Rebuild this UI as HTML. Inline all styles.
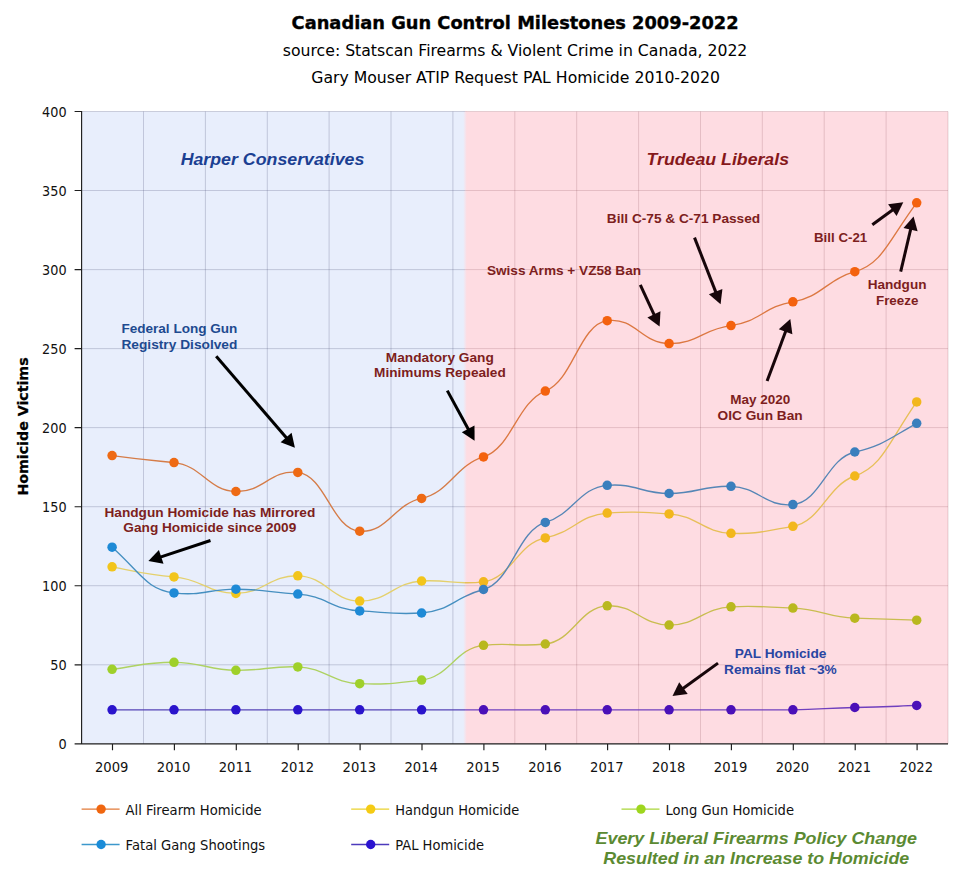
<!DOCTYPE html>
<html lang="en"><head><meta charset="utf-8"><title>Canadian Gun Control Milestones 2009-2022</title>
<style>
html,body{margin:0;padding:0;background:#fff;}
body{width:969px;height:877px;overflow:hidden;}
svg{display:block;}
.v{font-family:"DejaVu Sans","Liberation Sans",sans-serif;}
.a{font-family:"Liberation Sans","DejaVu Sans",sans-serif;font-weight:bold;}
</style></head><body>
<svg width="969" height="877" viewBox="0 0 969 877">
<defs><clipPath id="cl"><rect x="0" y="0" width="465.0" height="877"/></clipPath><clipPath id="cr"><rect x="465.0" y="0" width="504.0" height="877"/></clipPath></defs>
<rect width="969" height="877" fill="#ffffff"/>
<text class="v" x="515.1" y="28.7" text-anchor="middle" font-size="17.9" font-weight="bold" fill="#000" stroke="#000" stroke-width="0.35" textLength="447" lengthAdjust="spacingAndGlyphs">Canadian Gun Control Milestones 2009-2022</text>
<text class="v" x="515.1" y="56.0" text-anchor="middle" font-size="15" fill="#000" textLength="464.5" lengthAdjust="spacingAndGlyphs">source: Statscan Firearms &amp; Violent Crime in Canada, 2022</text>
<text class="v" x="515.6" y="82.8" text-anchor="middle" font-size="15" fill="#000" textLength="408.7" lengthAdjust="spacingAndGlyphs">Gary Mouser ATIP Request PAL Homicide 2010-2020</text>
<rect x="81.6" y="111.5" width="383.4" height="632.3" fill="#e8eefc"/>
<rect x="465.0" y="111.5" width="483.0" height="632.3" fill="#fedce2"/>
<linearGradient id="sg" x1="0" y1="0" x2="1" y2="0"><stop offset="0" stop-color="#e8eefc"/><stop offset="1" stop-color="#fedce2"/></linearGradient>
<rect x="463.2" y="111.5" width="3.6" height="632.3" fill="url(#sg)"/>
<path clip-path="url(#cl)" d="M81.6 111.5H948.0M81.6 190.5H948.0M81.6 269.6H948.0M81.6 348.6H948.0M81.6 427.6H948.0M81.6 506.7H948.0M81.6 585.7H948.0M81.6 664.8H948.0M143.5 111.5V743.8M205.4 111.5V743.8M267.3 111.5V743.8M329.1 111.5V743.8M391.0 111.5V743.8M452.9 111.5V743.8M514.8 111.5V743.8M576.7 111.5V743.8M638.6 111.5V743.8M700.5 111.5V743.8M762.3 111.5V743.8M824.2 111.5V743.8M886.1 111.5V743.8M948.0 111.5V743.8" stroke="#4a4f78" stroke-opacity="0.25" stroke-width="1" fill="none"/>
<path clip-path="url(#cr)" d="M81.6 111.5H948.0M81.6 190.5H948.0M81.6 269.6H948.0M81.6 348.6H948.0M81.6 427.6H948.0M81.6 506.7H948.0M81.6 585.7H948.0M81.6 664.8H948.0M143.5 111.5V743.8M205.4 111.5V743.8M267.3 111.5V743.8M329.1 111.5V743.8M391.0 111.5V743.8M452.9 111.5V743.8M514.8 111.5V743.8M576.7 111.5V743.8M638.6 111.5V743.8M700.5 111.5V743.8M762.3 111.5V743.8M824.2 111.5V743.8M886.1 111.5V743.8M948.0 111.5V743.8" stroke="#7a3846" stroke-opacity="0.19" stroke-width="1" fill="none"/>
<g clip-path="url(#cl)">
<path d="M112.14 709.80 C139.99 709.80 146.18 709.80 174.03 709.80 C201.88 709.80 208.07 709.80 235.91 709.80 C263.76 709.80 269.95 709.80 297.80 709.80 C325.65 709.80 331.84 709.80 359.69 709.80 C387.53 709.80 393.72 709.80 421.57 709.80 C449.42 709.80 455.61 709.80 483.46 709.80 C511.31 709.80 517.49 709.80 545.34 709.80 C573.19 709.80 579.38 709.80 607.23 709.80 C635.08 709.80 641.27 709.80 669.11 709.80 C696.96 709.80 703.15 709.80 731.00 709.80 C758.85 709.80 765.04 709.98 792.89 709.80 C820.73 709.62 826.92 707.85 854.77 707.50 C882.62 707.15 888.81 706.53 916.66 705.40" fill="none" stroke="#5544b6" stroke-width="1.35"/>
<circle cx="112.1" cy="709.8" r="4.75" fill="#2a14cc"/><circle cx="174.0" cy="709.8" r="4.75" fill="#2a14cc"/><circle cx="235.9" cy="709.8" r="4.75" fill="#2a14cc"/><circle cx="297.8" cy="709.8" r="4.75" fill="#2a14cc"/><circle cx="359.7" cy="709.8" r="4.75" fill="#2a14cc"/><circle cx="421.6" cy="709.8" r="4.75" fill="#2a14cc"/><circle cx="483.5" cy="709.8" r="4.75" fill="#2a14cc"/><circle cx="545.3" cy="709.8" r="4.75" fill="#2a14cc"/><circle cx="607.2" cy="709.8" r="4.75" fill="#2a14cc"/><circle cx="669.1" cy="709.8" r="4.75" fill="#2a14cc"/><circle cx="731.0" cy="709.8" r="4.75" fill="#2a14cc"/><circle cx="792.9" cy="709.8" r="4.75" fill="#2a14cc"/><circle cx="854.8" cy="707.5" r="4.75" fill="#2a14cc"/><circle cx="916.7" cy="705.4" r="4.75" fill="#2a14cc"/>
<path d="M112.14 669.30 C139.99 665.52 146.18 662.22 174.03 662.30 C201.88 662.38 208.07 669.94 235.91 670.30 C263.76 670.66 269.95 665.84 297.80 666.90 C325.65 667.96 331.84 682.66 359.69 683.70 C387.53 684.74 393.72 683.12 421.57 680.10 C449.42 677.08 455.61 648.14 483.46 645.30 C511.31 642.46 517.49 647.11 545.34 644.00 C573.19 640.89 579.38 607.29 607.23 605.80 C635.08 604.31 641.27 625.02 669.11 625.10 C696.96 625.18 703.15 608.14 731.00 606.80 C758.85 605.46 765.04 607.20 792.89 608.10 C820.73 609.00 826.92 617.25 854.77 618.20 C882.62 619.15 888.81 619.12 916.66 620.20" fill="none" stroke="#aed262" stroke-width="1.35"/>
<circle cx="112.1" cy="669.3" r="4.75" fill="#9fd02a"/><circle cx="174.0" cy="662.3" r="4.75" fill="#9fd02a"/><circle cx="235.9" cy="670.3" r="4.75" fill="#9fd02a"/><circle cx="297.8" cy="666.9" r="4.75" fill="#9fd02a"/><circle cx="359.7" cy="683.7" r="4.75" fill="#9fd02a"/><circle cx="421.6" cy="680.1" r="4.75" fill="#9fd02a"/><circle cx="483.5" cy="645.3" r="4.75" fill="#9fd02a"/><circle cx="545.3" cy="644.0" r="4.75" fill="#9fd02a"/><circle cx="607.2" cy="605.8" r="4.75" fill="#9fd02a"/><circle cx="669.1" cy="625.1" r="4.75" fill="#9fd02a"/><circle cx="731.0" cy="606.8" r="4.75" fill="#9fd02a"/><circle cx="792.9" cy="608.1" r="4.75" fill="#9fd02a"/><circle cx="854.8" cy="618.2" r="4.75" fill="#9fd02a"/><circle cx="916.7" cy="620.2" r="4.75" fill="#9fd02a"/>
<path d="M112.14 566.80 C139.99 572.25 146.18 574.81 174.03 576.90 C201.88 578.99 208.07 593.49 235.91 593.40 C263.76 593.31 269.95 575.19 297.80 575.80 C325.65 576.41 331.84 600.69 359.69 601.10 C387.53 601.51 393.72 582.52 421.57 581.00 C449.42 579.48 455.61 585.19 483.46 581.80 C511.31 578.41 517.49 543.31 545.34 537.90 C573.19 532.49 579.38 514.99 607.23 513.10 C635.08 511.21 641.27 512.31 669.11 513.90 C696.96 515.49 703.15 532.32 731.00 533.30 C758.85 534.28 765.04 530.81 792.89 526.30 C820.73 521.79 826.92 485.80 854.77 476.00 C882.62 466.20 888.81 441.91 916.66 401.90" fill="none" stroke="#e4d06c" stroke-width="1.35"/>
<circle cx="112.1" cy="566.8" r="4.75" fill="#f2c51c"/><circle cx="174.0" cy="576.9" r="4.75" fill="#f2c51c"/><circle cx="235.9" cy="593.4" r="4.75" fill="#f2c51c"/><circle cx="297.8" cy="575.8" r="4.75" fill="#f2c51c"/><circle cx="359.7" cy="601.1" r="4.75" fill="#f2c51c"/><circle cx="421.6" cy="581.0" r="4.75" fill="#f2c51c"/><circle cx="483.5" cy="581.8" r="4.75" fill="#f2c51c"/><circle cx="545.3" cy="537.9" r="4.75" fill="#f2c51c"/><circle cx="607.2" cy="513.1" r="4.75" fill="#f2c51c"/><circle cx="669.1" cy="513.9" r="4.75" fill="#f2c51c"/><circle cx="731.0" cy="533.3" r="4.75" fill="#f2c51c"/><circle cx="792.9" cy="526.3" r="4.75" fill="#f2c51c"/><circle cx="854.8" cy="476.0" r="4.75" fill="#f2c51c"/><circle cx="916.7" cy="401.9" r="4.75" fill="#f2c51c"/>
<path d="M112.14 547.20 C139.99 571.88 146.18 589.59 174.03 592.90 C201.88 596.21 208.07 589.11 235.91 589.20 C263.76 589.29 269.95 592.39 297.80 594.10 C325.65 595.81 331.84 609.41 359.69 610.90 C387.53 612.39 393.72 614.69 421.57 613.00 C449.42 611.31 455.61 596.63 483.46 589.50 C511.31 582.37 517.49 530.61 545.34 522.40 C573.19 514.19 579.38 487.58 607.23 485.30 C635.08 483.02 641.27 493.42 669.11 493.50 C696.96 493.58 703.15 485.43 731.00 486.30 C758.85 487.17 765.04 507.30 792.89 504.60 C820.73 501.90 826.92 458.40 854.77 452.00 C882.62 445.60 888.81 438.80 916.66 423.30" fill="none" stroke="#458fc0" stroke-width="1.35"/>
<circle cx="112.1" cy="547.2" r="4.75" fill="#1e8ad6"/><circle cx="174.0" cy="592.9" r="4.75" fill="#1e8ad6"/><circle cx="235.9" cy="589.2" r="4.75" fill="#1e8ad6"/><circle cx="297.8" cy="594.1" r="4.75" fill="#1e8ad6"/><circle cx="359.7" cy="610.9" r="4.75" fill="#1e8ad6"/><circle cx="421.6" cy="613.0" r="4.75" fill="#1e8ad6"/><circle cx="483.5" cy="589.5" r="4.75" fill="#1e8ad6"/><circle cx="545.3" cy="522.4" r="4.75" fill="#1e8ad6"/><circle cx="607.2" cy="485.3" r="4.75" fill="#1e8ad6"/><circle cx="669.1" cy="493.5" r="4.75" fill="#1e8ad6"/><circle cx="731.0" cy="486.3" r="4.75" fill="#1e8ad6"/><circle cx="792.9" cy="504.6" r="4.75" fill="#1e8ad6"/><circle cx="854.8" cy="452.0" r="4.75" fill="#1e8ad6"/><circle cx="916.7" cy="423.3" r="4.75" fill="#1e8ad6"/>
<path d="M112.14 455.60 C139.99 459.38 146.18 459.77 174.03 462.60 C201.88 465.43 208.07 490.73 235.91 491.50 C263.76 492.27 269.95 469.27 297.80 472.40 C325.65 475.53 331.84 529.15 359.69 531.20 C387.53 533.25 393.72 504.25 421.57 498.40 C449.42 492.55 455.61 465.35 483.46 456.90 C511.31 448.45 517.49 401.83 545.34 391.10 C573.19 380.37 579.38 324.44 607.23 320.70 C635.08 316.96 641.27 343.21 669.11 343.60 C696.96 343.99 703.15 328.89 731.00 325.60 C758.85 322.31 765.04 306.04 792.89 301.80 C820.73 297.56 826.92 279.50 854.77 271.70 C882.62 263.90 888.81 240.01 916.66 202.80" fill="none" stroke="#d57c48" stroke-width="1.35"/>
<circle cx="112.1" cy="455.6" r="4.75" fill="#ee6a14"/><circle cx="174.0" cy="462.6" r="4.75" fill="#ee6a14"/><circle cx="235.9" cy="491.5" r="4.75" fill="#ee6a14"/><circle cx="297.8" cy="472.4" r="4.75" fill="#ee6a14"/><circle cx="359.7" cy="531.2" r="4.75" fill="#ee6a14"/><circle cx="421.6" cy="498.4" r="4.75" fill="#ee6a14"/><circle cx="483.5" cy="456.9" r="4.75" fill="#ee6a14"/><circle cx="545.3" cy="391.1" r="4.75" fill="#ee6a14"/><circle cx="607.2" cy="320.7" r="4.75" fill="#ee6a14"/><circle cx="669.1" cy="343.6" r="4.75" fill="#ee6a14"/><circle cx="731.0" cy="325.6" r="4.75" fill="#ee6a14"/><circle cx="792.9" cy="301.8" r="4.75" fill="#ee6a14"/><circle cx="854.8" cy="271.7" r="4.75" fill="#ee6a14"/><circle cx="916.7" cy="202.8" r="4.75" fill="#ee6a14"/>
</g>
<g clip-path="url(#cr)">
<path d="M112.14 709.80 C139.99 709.80 146.18 709.80 174.03 709.80 C201.88 709.80 208.07 709.80 235.91 709.80 C263.76 709.80 269.95 709.80 297.80 709.80 C325.65 709.80 331.84 709.80 359.69 709.80 C387.53 709.80 393.72 709.80 421.57 709.80 C449.42 709.80 455.61 709.80 483.46 709.80 C511.31 709.80 517.49 709.80 545.34 709.80 C573.19 709.80 579.38 709.80 607.23 709.80 C635.08 709.80 641.27 709.80 669.11 709.80 C696.96 709.80 703.15 709.80 731.00 709.80 C758.85 709.80 765.04 709.98 792.89 709.80 C820.73 709.62 826.92 707.85 854.77 707.50 C882.62 707.15 888.81 706.53 916.66 705.40" fill="none" stroke="#7040be" stroke-width="1.35"/>
<circle cx="112.1" cy="709.8" r="4.75" fill="#4a10b8"/><circle cx="174.0" cy="709.8" r="4.75" fill="#4a10b8"/><circle cx="235.9" cy="709.8" r="4.75" fill="#4a10b8"/><circle cx="297.8" cy="709.8" r="4.75" fill="#4a10b8"/><circle cx="359.7" cy="709.8" r="4.75" fill="#4a10b8"/><circle cx="421.6" cy="709.8" r="4.75" fill="#4a10b8"/><circle cx="483.5" cy="709.8" r="4.75" fill="#4a10b8"/><circle cx="545.3" cy="709.8" r="4.75" fill="#4a10b8"/><circle cx="607.2" cy="709.8" r="4.75" fill="#4a10b8"/><circle cx="669.1" cy="709.8" r="4.75" fill="#4a10b8"/><circle cx="731.0" cy="709.8" r="4.75" fill="#4a10b8"/><circle cx="792.9" cy="709.8" r="4.75" fill="#4a10b8"/><circle cx="854.8" cy="707.5" r="4.75" fill="#4a10b8"/><circle cx="916.7" cy="705.4" r="4.75" fill="#4a10b8"/>
<path d="M112.14 669.30 C139.99 665.52 146.18 662.22 174.03 662.30 C201.88 662.38 208.07 669.94 235.91 670.30 C263.76 670.66 269.95 665.84 297.80 666.90 C325.65 667.96 331.84 682.66 359.69 683.70 C387.53 684.74 393.72 683.12 421.57 680.10 C449.42 677.08 455.61 648.14 483.46 645.30 C511.31 642.46 517.49 647.11 545.34 644.00 C573.19 640.89 579.38 607.29 607.23 605.80 C635.08 604.31 641.27 625.02 669.11 625.10 C696.96 625.18 703.15 608.14 731.00 606.80 C758.85 605.46 765.04 607.20 792.89 608.10 C820.73 609.00 826.92 617.25 854.77 618.20 C882.62 619.15 888.81 619.12 916.66 620.20" fill="none" stroke="#c9bd50" stroke-width="1.35"/>
<circle cx="112.1" cy="669.3" r="4.75" fill="#b9b81f"/><circle cx="174.0" cy="662.3" r="4.75" fill="#b9b81f"/><circle cx="235.9" cy="670.3" r="4.75" fill="#b9b81f"/><circle cx="297.8" cy="666.9" r="4.75" fill="#b9b81f"/><circle cx="359.7" cy="683.7" r="4.75" fill="#b9b81f"/><circle cx="421.6" cy="680.1" r="4.75" fill="#b9b81f"/><circle cx="483.5" cy="645.3" r="4.75" fill="#b9b81f"/><circle cx="545.3" cy="644.0" r="4.75" fill="#b9b81f"/><circle cx="607.2" cy="605.8" r="4.75" fill="#b9b81f"/><circle cx="669.1" cy="625.1" r="4.75" fill="#b9b81f"/><circle cx="731.0" cy="606.8" r="4.75" fill="#b9b81f"/><circle cx="792.9" cy="608.1" r="4.75" fill="#b9b81f"/><circle cx="854.8" cy="618.2" r="4.75" fill="#b9b81f"/><circle cx="916.7" cy="620.2" r="4.75" fill="#b9b81f"/>
<path d="M112.14 566.80 C139.99 572.25 146.18 574.81 174.03 576.90 C201.88 578.99 208.07 593.49 235.91 593.40 C263.76 593.31 269.95 575.19 297.80 575.80 C325.65 576.41 331.84 600.69 359.69 601.10 C387.53 601.51 393.72 582.52 421.57 581.00 C449.42 579.48 455.61 585.19 483.46 581.80 C511.31 578.41 517.49 543.31 545.34 537.90 C573.19 532.49 579.38 514.99 607.23 513.10 C635.08 511.21 641.27 512.31 669.11 513.90 C696.96 515.49 703.15 532.32 731.00 533.30 C758.85 534.28 765.04 530.81 792.89 526.30 C820.73 521.79 826.92 485.80 854.77 476.00 C882.62 466.20 888.81 441.91 916.66 401.90" fill="none" stroke="#e7bf58" stroke-width="1.35"/>
<circle cx="112.1" cy="566.8" r="4.75" fill="#f2b71c"/><circle cx="174.0" cy="576.9" r="4.75" fill="#f2b71c"/><circle cx="235.9" cy="593.4" r="4.75" fill="#f2b71c"/><circle cx="297.8" cy="575.8" r="4.75" fill="#f2b71c"/><circle cx="359.7" cy="601.1" r="4.75" fill="#f2b71c"/><circle cx="421.6" cy="581.0" r="4.75" fill="#f2b71c"/><circle cx="483.5" cy="581.8" r="4.75" fill="#f2b71c"/><circle cx="545.3" cy="537.9" r="4.75" fill="#f2b71c"/><circle cx="607.2" cy="513.1" r="4.75" fill="#f2b71c"/><circle cx="669.1" cy="513.9" r="4.75" fill="#f2b71c"/><circle cx="731.0" cy="533.3" r="4.75" fill="#f2b71c"/><circle cx="792.9" cy="526.3" r="4.75" fill="#f2b71c"/><circle cx="854.8" cy="476.0" r="4.75" fill="#f2b71c"/><circle cx="916.7" cy="401.9" r="4.75" fill="#f2b71c"/>
<path d="M112.14 547.20 C139.99 571.88 146.18 589.59 174.03 592.90 C201.88 596.21 208.07 589.11 235.91 589.20 C263.76 589.29 269.95 592.39 297.80 594.10 C325.65 595.81 331.84 609.41 359.69 610.90 C387.53 612.39 393.72 614.69 421.57 613.00 C449.42 611.31 455.61 596.63 483.46 589.50 C511.31 582.37 517.49 530.61 545.34 522.40 C573.19 514.19 579.38 487.58 607.23 485.30 C635.08 483.02 641.27 493.42 669.11 493.50 C696.96 493.58 703.15 485.43 731.00 486.30 C758.85 487.17 765.04 507.30 792.89 504.60 C820.73 501.90 826.92 458.40 854.77 452.00 C882.62 445.60 888.81 438.80 916.66 423.30" fill="none" stroke="#5686b6" stroke-width="1.35"/>
<circle cx="112.1" cy="547.2" r="4.75" fill="#3a7fbd"/><circle cx="174.0" cy="592.9" r="4.75" fill="#3a7fbd"/><circle cx="235.9" cy="589.2" r="4.75" fill="#3a7fbd"/><circle cx="297.8" cy="594.1" r="4.75" fill="#3a7fbd"/><circle cx="359.7" cy="610.9" r="4.75" fill="#3a7fbd"/><circle cx="421.6" cy="613.0" r="4.75" fill="#3a7fbd"/><circle cx="483.5" cy="589.5" r="4.75" fill="#3a7fbd"/><circle cx="545.3" cy="522.4" r="4.75" fill="#3a7fbd"/><circle cx="607.2" cy="485.3" r="4.75" fill="#3a7fbd"/><circle cx="669.1" cy="493.5" r="4.75" fill="#3a7fbd"/><circle cx="731.0" cy="486.3" r="4.75" fill="#3a7fbd"/><circle cx="792.9" cy="504.6" r="4.75" fill="#3a7fbd"/><circle cx="854.8" cy="452.0" r="4.75" fill="#3a7fbd"/><circle cx="916.7" cy="423.3" r="4.75" fill="#3a7fbd"/>
<path d="M112.14 455.60 C139.99 459.38 146.18 459.77 174.03 462.60 C201.88 465.43 208.07 490.73 235.91 491.50 C263.76 492.27 269.95 469.27 297.80 472.40 C325.65 475.53 331.84 529.15 359.69 531.20 C387.53 533.25 393.72 504.25 421.57 498.40 C449.42 492.55 455.61 465.35 483.46 456.90 C511.31 448.45 517.49 401.83 545.34 391.10 C573.19 380.37 579.38 324.44 607.23 320.70 C635.08 316.96 641.27 343.21 669.11 343.60 C696.96 343.99 703.15 328.89 731.00 325.60 C758.85 322.31 765.04 306.04 792.89 301.80 C820.73 297.56 826.92 279.50 854.77 271.70 C882.62 263.90 888.81 240.01 916.66 202.80" fill="none" stroke="#dc7842" stroke-width="1.35"/>
<circle cx="112.1" cy="455.6" r="4.75" fill="#f4620e"/><circle cx="174.0" cy="462.6" r="4.75" fill="#f4620e"/><circle cx="235.9" cy="491.5" r="4.75" fill="#f4620e"/><circle cx="297.8" cy="472.4" r="4.75" fill="#f4620e"/><circle cx="359.7" cy="531.2" r="4.75" fill="#f4620e"/><circle cx="421.6" cy="498.4" r="4.75" fill="#f4620e"/><circle cx="483.5" cy="456.9" r="4.75" fill="#f4620e"/><circle cx="545.3" cy="391.1" r="4.75" fill="#f4620e"/><circle cx="607.2" cy="320.7" r="4.75" fill="#f4620e"/><circle cx="669.1" cy="343.6" r="4.75" fill="#f4620e"/><circle cx="731.0" cy="325.6" r="4.75" fill="#f4620e"/><circle cx="792.9" cy="301.8" r="4.75" fill="#f4620e"/><circle cx="854.8" cy="271.7" r="4.75" fill="#f4620e"/><circle cx="916.7" cy="202.8" r="4.75" fill="#f4620e"/>
</g>
<path d="M81.6 111.0V743.8M74.6 743.8H948.0M74.6 111.5H81.6M74.6 190.5H81.6M74.6 269.6H81.6M74.6 348.6H81.6M74.6 427.6H81.6M74.6 506.7H81.6M74.6 585.7H81.6M74.6 664.8H81.6M112.5 743.8V750.3M174.4 743.8V750.3M236.3 743.8V750.3M298.2 743.8V750.3M360.1 743.8V750.3M422.0 743.8V750.3M483.9 743.8V750.3M545.7 743.8V750.3M607.6 743.8V750.3M669.5 743.8V750.3M731.4 743.8V750.3M793.3 743.8V750.3M855.2 743.8V750.3M917.1 743.8V750.3" stroke="#1e1e1e" stroke-width="1.15" fill="none"/>
<text class="v" x="66.6" y="116.8" text-anchor="end" font-size="13.8" fill="#111" textLength="24.5" lengthAdjust="spacingAndGlyphs">400</text>
<text class="v" x="66.6" y="195.8" text-anchor="end" font-size="13.8" fill="#111" textLength="24.5" lengthAdjust="spacingAndGlyphs">350</text>
<text class="v" x="66.6" y="274.9" text-anchor="end" font-size="13.8" fill="#111" textLength="24.5" lengthAdjust="spacingAndGlyphs">300</text>
<text class="v" x="66.6" y="353.9" text-anchor="end" font-size="13.8" fill="#111" textLength="24.5" lengthAdjust="spacingAndGlyphs">250</text>
<text class="v" x="66.6" y="432.9" text-anchor="end" font-size="13.8" fill="#111" textLength="24.5" lengthAdjust="spacingAndGlyphs">200</text>
<text class="v" x="66.6" y="512.0" text-anchor="end" font-size="13.8" fill="#111" textLength="24.5" lengthAdjust="spacingAndGlyphs">150</text>
<text class="v" x="66.6" y="591.0" text-anchor="end" font-size="13.8" fill="#111" textLength="24.5" lengthAdjust="spacingAndGlyphs">100</text>
<text class="v" x="66.6" y="670.1" text-anchor="end" font-size="13.8" fill="#111" textLength="16.4" lengthAdjust="spacingAndGlyphs">50</text>
<text class="v" x="66.6" y="749.1" text-anchor="end" font-size="13.8" fill="#111" textLength="8.2" lengthAdjust="spacingAndGlyphs">0</text>
<text class="v" x="111.7" y="771.6" text-anchor="middle" font-size="14" fill="#111" textLength="33.5" lengthAdjust="spacingAndGlyphs">2009</text>
<text class="v" x="173.6" y="771.6" text-anchor="middle" font-size="14" fill="#111" textLength="33.5" lengthAdjust="spacingAndGlyphs">2010</text>
<text class="v" x="235.5" y="771.6" text-anchor="middle" font-size="14" fill="#111" textLength="33.5" lengthAdjust="spacingAndGlyphs">2011</text>
<text class="v" x="297.4" y="771.6" text-anchor="middle" font-size="14" fill="#111" textLength="33.5" lengthAdjust="spacingAndGlyphs">2012</text>
<text class="v" x="359.3" y="771.6" text-anchor="middle" font-size="14" fill="#111" textLength="33.5" lengthAdjust="spacingAndGlyphs">2013</text>
<text class="v" x="421.2" y="771.6" text-anchor="middle" font-size="14" fill="#111" textLength="33.5" lengthAdjust="spacingAndGlyphs">2014</text>
<text class="v" x="483.1" y="771.6" text-anchor="middle" font-size="14" fill="#111" textLength="33.5" lengthAdjust="spacingAndGlyphs">2015</text>
<text class="v" x="544.9" y="771.6" text-anchor="middle" font-size="14" fill="#111" textLength="33.5" lengthAdjust="spacingAndGlyphs">2016</text>
<text class="v" x="606.8" y="771.6" text-anchor="middle" font-size="14" fill="#111" textLength="33.5" lengthAdjust="spacingAndGlyphs">2017</text>
<text class="v" x="668.7" y="771.6" text-anchor="middle" font-size="14" fill="#111" textLength="33.5" lengthAdjust="spacingAndGlyphs">2018</text>
<text class="v" x="730.6" y="771.6" text-anchor="middle" font-size="14" fill="#111" textLength="33.5" lengthAdjust="spacingAndGlyphs">2019</text>
<text class="v" x="792.5" y="771.6" text-anchor="middle" font-size="14" fill="#111" textLength="33.5" lengthAdjust="spacingAndGlyphs">2020</text>
<text class="v" x="854.4" y="771.6" text-anchor="middle" font-size="14" fill="#111" textLength="33.5" lengthAdjust="spacingAndGlyphs">2021</text>
<text class="v" x="916.3" y="771.6" text-anchor="middle" font-size="14" fill="#111" textLength="33.5" lengthAdjust="spacingAndGlyphs">2022</text>
<text class="v" transform="translate(28.1 426.5) rotate(-90)" text-anchor="middle" font-size="14" font-weight="bold" fill="#000" stroke="#000" stroke-width="0.25" textLength="138.2" lengthAdjust="spacingAndGlyphs">Homicide Victims</text>
<text class="a" x="272.5" y="164.6" text-anchor="middle" font-size="16.6" font-style="italic" fill="#1b3f92" textLength="183.7" lengthAdjust="spacingAndGlyphs">Harper Conservatives</text>
<text class="a" x="717.8" y="164.6" text-anchor="middle" font-size="16.6" font-style="italic" fill="#86181b" textLength="142.4" lengthAdjust="spacingAndGlyphs">Trudeau Liberals</text>
<line x1="216.2" y1="356.2" x2="286.8" y2="438.3" stroke="#000000" stroke-width="3.0"/><polygon points="294.9,447.8 280.6,442.3 291.6,432.8" fill="#000000"/>
<line x1="210.5" y1="540.5" x2="160.3" y2="557.2" stroke="#000000" stroke-width="3.0"/><polygon points="148.4,561.1 158.9,550.0 163.5,563.7" fill="#000000"/>
<line x1="447.3" y1="390.6" x2="468.6" y2="429.7" stroke="#000000" stroke-width="3.0"/><polygon points="474.6,440.7 461.8,432.3 474.5,425.4" fill="#000000"/>
<line x1="640.3" y1="284.8" x2="654.4" y2="315.3" stroke="#17060a" stroke-width="3.0"/><polygon points="659.6,326.6 647.4,317.4 660.5,311.3" fill="#17060a"/>
<line x1="694.5" y1="237.6" x2="716.0" y2="292.6" stroke="#17060a" stroke-width="3.0"/><polygon points="720.6,304.2 708.9,294.3 722.4,289.0" fill="#17060a"/>
<line x1="767.1" y1="381.0" x2="785.9" y2="330.8" stroke="#17060a" stroke-width="3.0"/><polygon points="790.3,319.1 792.4,334.3 778.8,329.2" fill="#17060a"/>
<line x1="872.3" y1="224.7" x2="893.2" y2="209.5" stroke="#17060a" stroke-width="3.0"/><polygon points="903.3,202.2 896.6,216.0 888.1,204.3" fill="#17060a"/>
<line x1="900.7" y1="271.7" x2="910.8" y2="228.6" stroke="#17060a" stroke-width="3.0"/><polygon points="913.6,216.4 917.6,231.2 903.5,227.9" fill="#17060a"/>
<line x1="718.0" y1="663.1" x2="682.6" y2="688.8" stroke="#17060a" stroke-width="3.0"/><polygon points="672.5,696.1 679.2,682.3 687.7,694.0" fill="#17060a"/>
<text class="a" x="179.4" y="333.4" text-anchor="middle" font-size="13.7" fill="#1e4a90" textLength="116.0" lengthAdjust="spacingAndGlyphs">Federal Long Gun</text>
<text class="a" x="179.4" y="349.4" text-anchor="middle" font-size="13.7" fill="#1e4a90" textLength="116.0" lengthAdjust="spacingAndGlyphs">Registry Disolved</text>
<text class="a" x="439.8" y="361.6" text-anchor="middle" font-size="13.7" fill="#7d1e20" textLength="108.0" lengthAdjust="spacingAndGlyphs">Mandatory Gang</text>
<text class="a" x="439.9" y="377.1" text-anchor="middle" font-size="13.7" fill="#7d1e20" textLength="131.6" lengthAdjust="spacingAndGlyphs">Minimums Repealed</text>
<text class="a" x="209.9" y="516.6" text-anchor="middle" font-size="13.7" fill="#7d1e20" textLength="210.8" lengthAdjust="spacingAndGlyphs">Handgun Homicide has Mirrored</text>
<text class="a" x="209.8" y="532.2" text-anchor="middle" font-size="13.7" fill="#7d1e20" textLength="172.9" lengthAdjust="spacingAndGlyphs">Gang Homicide since 2009</text>
<text class="a" x="564.0" y="274.8" text-anchor="middle" font-size="13.7" fill="#7d1e20" textLength="154.2" lengthAdjust="spacingAndGlyphs">Swiss Arms + VZ58 Ban</text>
<text class="a" x="683.5" y="223.0" text-anchor="middle" font-size="13.7" fill="#7d1e20" textLength="153.3" lengthAdjust="spacingAndGlyphs">Bill C-75 &amp; C-71 Passed</text>
<text class="a" x="840.6" y="242.0" text-anchor="middle" font-size="13.7" fill="#7d1e20" textLength="53.2" lengthAdjust="spacingAndGlyphs">Bill C-21</text>
<text class="a" x="897.1" y="288.9" text-anchor="middle" font-size="13.7" fill="#7d1e20" textLength="58.8" lengthAdjust="spacingAndGlyphs">Handgun</text>
<text class="a" x="897.2" y="304.9" text-anchor="middle" font-size="13.7" fill="#7d1e20" textLength="42.5" lengthAdjust="spacingAndGlyphs">Freeze</text>
<text class="a" x="760.2" y="404.2" text-anchor="middle" font-size="13.7" fill="#7d1e20" textLength="60.1" lengthAdjust="spacingAndGlyphs">May 2020</text>
<text class="a" x="760.1" y="420.2" text-anchor="middle" font-size="13.7" fill="#7d1e20" textLength="85.2" lengthAdjust="spacingAndGlyphs">OIC Gun Ban</text>
<text class="a" x="780.6" y="657.9" text-anchor="middle" font-size="13.7" fill="#2946a2" textLength="91.6" lengthAdjust="spacingAndGlyphs">PAL Homicide</text>
<text class="a" x="780.4" y="673.9" text-anchor="middle" font-size="13.7" fill="#2946a2" textLength="112.7" lengthAdjust="spacingAndGlyphs">Remains flat ~3%</text>
<line x1="81.6" y1="809.1" x2="119.6" y2="809.1" stroke="#e27a38" stroke-width="1.3"/><circle cx="101.1" cy="809.1" r="4.7" fill="#f0660f"/><text class="v" x="125.6" y="814.7" font-size="14" fill="#111" textLength="136.0" lengthAdjust="spacingAndGlyphs">All Firearm Homicide</text>
<line x1="81.6" y1="844.5" x2="119.6" y2="844.5" stroke="#3c98cc" stroke-width="1.3"/><circle cx="101.1" cy="844.5" r="4.7" fill="#1a8cd8"/><text class="v" x="125.6" y="850.1" font-size="14" fill="#111" textLength="139.6" lengthAdjust="spacingAndGlyphs">Fatal Gang Shootings</text>
<line x1="351.2" y1="809.1" x2="389.2" y2="809.1" stroke="#ead22e" stroke-width="1.3"/><circle cx="370.7" cy="809.1" r="4.7" fill="#f5cb14"/><text class="v" x="395.2" y="814.7" font-size="14" fill="#111" textLength="124.0" lengthAdjust="spacingAndGlyphs">Handgun Homicide</text>
<line x1="351.2" y1="844.5" x2="389.2" y2="844.5" stroke="#4c3abc" stroke-width="1.3"/><circle cx="370.7" cy="844.5" r="4.7" fill="#2a12d0"/><text class="v" x="395.2" y="850.1" font-size="14" fill="#111" textLength="88.8" lengthAdjust="spacingAndGlyphs">PAL Homicide</text>
<line x1="621.5" y1="809.1" x2="659.5" y2="809.1" stroke="#a9d638" stroke-width="1.3"/><circle cx="641.0" cy="809.1" r="4.7" fill="#9ed61e"/><text class="v" x="665.5" y="814.7" font-size="14" fill="#111" textLength="128.5" lengthAdjust="spacingAndGlyphs">Long Gun Homicide</text>
<text class="a" x="756.3" y="844.0" text-anchor="middle" font-size="16.6" font-style="italic" fill="#5b8a32" textLength="321.6" lengthAdjust="spacingAndGlyphs">Every Liberal Firearms Policy Change</text>
<text class="a" x="756.3" y="863.8" text-anchor="middle" font-size="16.6" font-style="italic" fill="#5b8a32" textLength="305.9" lengthAdjust="spacingAndGlyphs">Resulted in an Increase to Homicide</text>
</svg></body></html>
